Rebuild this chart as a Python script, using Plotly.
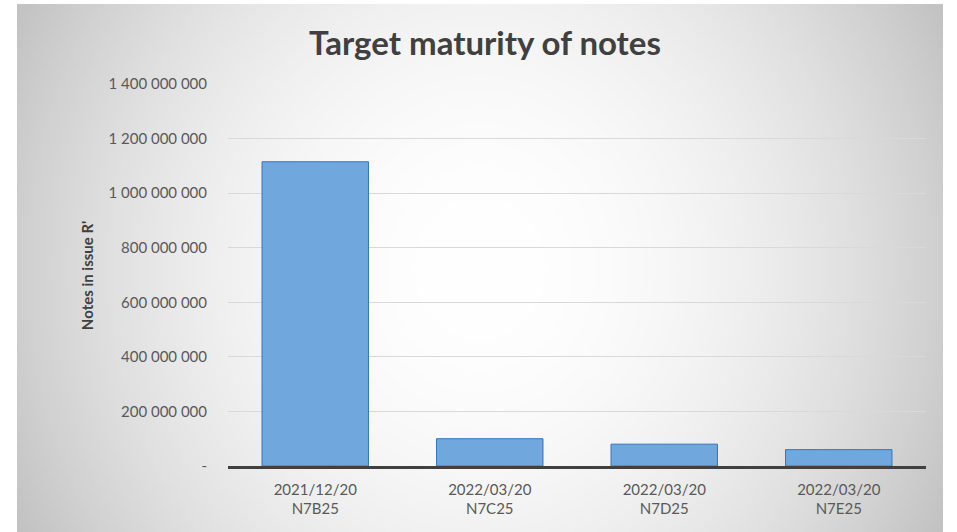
import base64, struct, zlib
import numpy as np
import plotly.graph_objects as go

# ---- data ----
categories = ["2021/12/20<br>N7B25", "2022/03/20<br>N7C25", "2022/03/20<br>N7D25", "2022/03/20<br>N7E25"]
values = [1115000000, 100000000, 80000000, 60000000]
tick_vals = [0, 200000000, 400000000, 600000000, 800000000, 1000000000, 1200000000, 1400000000]
tick_text = ["-", "200 000 000", "400 000 000", "600 000 000", "800 000 000",
             "1 000 000 000", "1 200 000 000", "1 400 000 000"]
title_text = "Target maturity of notes"
y_title = "Notes in issue R'"

# ---- radial background gradient (styling only) ----
def gradient_png(w, h):
    xs = np.linspace(-1, 1, w)
    ys = np.linspace(-1, 1, h)
    X, Y = np.meshgrid(xs, ys)
    u = X ** 2 + 0.27 * Y ** 2
    img = np.clip(255 - 48 * u, 0, 255).astype(np.uint8)
    raw = b"".join(b"\x00" + img[r].tobytes() for r in range(h))
    def chunk(tag, data):
        c = struct.pack(">I", len(data)) + tag + data
        return c + struct.pack(">I", zlib.crc32(tag + data) & 0xFFFFFFFF)
    png = b"\x89PNG\r\n\x1a\n"
    png += chunk(b"IHDR", struct.pack(">IIBBBBB", w, h, 8, 0, 0, 0, 0))
    png += chunk(b"IDAT", zlib.compress(raw, 9))
    png += chunk(b"IEND", b"")
    return "data:image/png;base64," + base64.b64encode(png).decode()

W, H = 957, 532
FX0, FX1, FY0 = 17, 943, 4
PL, PR, PT, PB = 228, 926, 84, 466

fig = go.Figure()
fig.add_trace(go.Bar(
    x=categories, y=values,
    marker=dict(color="#70a7dc", line=dict(color="#3476bb", width=1)),
    hoverinfo="x+y",
))

fig.add_layout_image(dict(
    source=gradient_png(463, 264),
    xref="paper", yref="paper",
    x=(FX0 - PL) / (PR - PL), y=(PB - FY0) / (PB - PT),
    sizex=(FX1 - FX0) / (PR - PL), sizey=(H - FY0) / (PB - PT),
    sizing="stretch", xanchor="left", yanchor="top", layer="below",
))

fig.update_layout(
    width=W, height=H,
    margin=dict(l=PL, r=W - PR, t=PT, b=H - PB),
    paper_bgcolor="white",
    plot_bgcolor="rgba(0,0,0,0)",
    bargap=0.39,
    showlegend=False,
    font=dict(family="Lato", color="#595959", size=15),
    title=dict(text="<b>" + title_text + "</b>", x=485 / W, xanchor="center",
               y=1 - 43 / H, yanchor="middle",
               font=dict(family="Lato", size=33, color="#404040")),
    annotations=[dict(
        text="<b>" + y_title + "</b>", xref="paper", yref="paper",
        x=(87 - PL) / (PR - PL), y=0.497, textangle=-90, showarrow=False,
        xanchor="center", yanchor="middle",
        font=dict(family="Lato", size=15, color="#404040"),
    )],
)

fig.update_xaxes(
    showline=True, linecolor="#404040", linewidth=2.5,
    showgrid=False, ticks="", ticklabelstandoff=8,
    tickfont=dict(size=15, color="#595959"),
    fixedrange=True,
)
fig.update_yaxes(
    range=[0, 1400000000], tickvals=tick_vals, ticktext=tick_text,
    showgrid=True, gridcolor="#d9d9d9", gridwidth=1,
    zeroline=False, showline=False, ticks="",
    ticklabelstandoff=20, tickfont=dict(size=15, color="#595959"),
    fixedrange=True,
)

fig.write_html("out.html", config={"displayModeBar": False},
               post_script="document.body.style.margin='0';")
